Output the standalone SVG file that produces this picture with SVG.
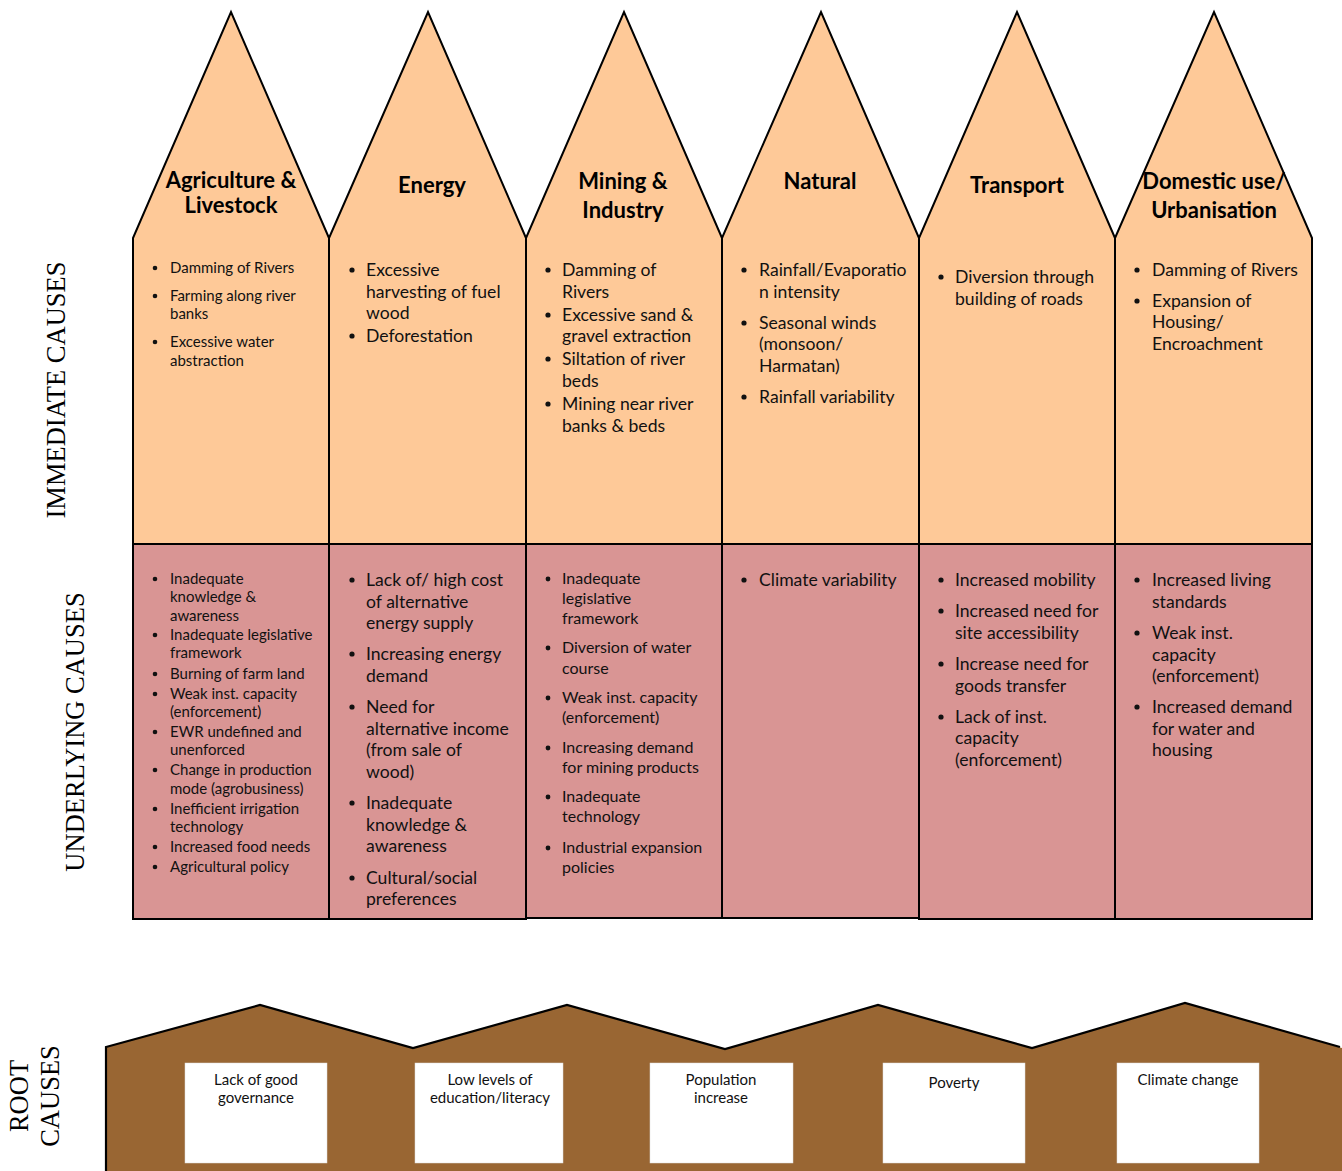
<svg xmlns="http://www.w3.org/2000/svg" width="1342" height="1171" viewBox="0 0 1342 1171">
<style>
.peak{fill:#FEC998;stroke:#000;stroke-width:2;stroke-linejoin:miter}
.under{fill:#D99594;stroke:#000;stroke-width:2}
.hd{font-family:Lato,"Open Sans",sans-serif;font-weight:bold;font-size:22px;fill:#000;text-anchor:middle}
.t{font-family:Lato,"Open Sans",sans-serif;font-size:17.6px;fill:#111}
.s{font-family:Lato,"Open Sans",sans-serif;font-size:15px;fill:#111}
.m{font-family:Lato,"Open Sans",sans-serif;font-size:16px;fill:#111}
.rb{fill:#fff;stroke:#ddd;stroke-width:0.5}
.rt{font-family:Lato,"Open Sans",sans-serif;font-size:15px;fill:#111;text-anchor:middle}
.side{font-family:"Liberation Serif","Times New Roman",serif;font-size:26.5px;fill:#000;text-anchor:middle}
.b{fill:#111}
</style>

<g id="side-labels">
<text class="side" transform="translate(65,390) rotate(-90)">IMMEDIATE CAUSES</text>
<text class="side" transform="translate(84,732) rotate(-90)">UNDERLYING CAUSES</text>
<text class="side" transform="translate(28,1096) rotate(-90)">ROOT</text>
<text class="side" transform="translate(59,1096) rotate(-90)">CAUSES</text>
</g>

<g id="connectors"></g>

<!-- Column 1 -->
<g id="agriculture">
<path class="peak" d="M133,544 L133,238 L231,12 L329,238 L329,544 Z"/>
<text class="hd"><tspan x="231" y="188">Agriculture &amp;</tspan><tspan x="231" y="213">Livestock</tspan></text>
<g class="b"><circle cx="155" cy="268" r="2.3"/><circle cx="155" cy="296" r="2.3"/><circle cx="155" cy="342" r="2.3"/></g>
<text class="s"><tspan x="170" y="273">Damming of Rivers</tspan><tspan x="170" y="301">Farming along river</tspan><tspan x="170" y="319">banks</tspan><tspan x="170" y="347">Excessive water</tspan><tspan x="170" y="366">abstraction</tspan></text>
</g>
<g id="agriculture-underlying">
<rect class="under" x="133" y="544" width="196" height="375"/>
<g class="b"><circle cx="155" cy="579" r="2.3"/><circle cx="155" cy="635" r="2.3"/><circle cx="155" cy="674" r="2.3"/><circle cx="155" cy="694" r="2.3"/><circle cx="155" cy="732" r="2.3"/><circle cx="155" cy="770" r="2.3"/><circle cx="155" cy="809" r="2.3"/><circle cx="155" cy="847" r="2.3"/><circle cx="155" cy="867" r="2.3"/></g>
<text class="s"><tspan x="170" y="584">Inadequate</tspan><tspan x="170" y="602">knowledge &amp;</tspan><tspan x="170" y="621">awareness</tspan><tspan x="170" y="640">Inadequate legislative</tspan><tspan x="170" y="658">framework</tspan><tspan x="170" y="679">Burning of farm land</tspan><tspan x="170" y="699">Weak inst. capacity</tspan><tspan x="170" y="717">(enforcement)</tspan><tspan x="170" y="737">EWR undefined and</tspan><tspan x="170" y="755">unenforced</tspan><tspan x="170" y="775">Change in production</tspan><tspan x="170" y="794">mode (agrobusiness)</tspan><tspan x="170" y="814">Inefficient irrigation</tspan><tspan x="170" y="832">technology</tspan><tspan x="170" y="852">Increased food needs</tspan><tspan x="170" y="872">Agricultural policy</tspan></text>
</g>

<!-- Column 2 -->
<g id="energy">
<path class="peak" d="M329,544 L329,238 L428,12 L526,238 L526,544 Z"/>
<text class="hd" x="432" y="193">Energy</text>
<g class="b"><circle cx="352" cy="270" r="2.6"/><circle cx="352" cy="336" r="2.6"/></g>
<text class="t"><tspan x="366" y="276">Excessive</tspan><tspan x="366" y="298">harvesting of fuel</tspan><tspan x="366" y="319">wood</tspan><tspan x="366" y="342">Deforestation</tspan></text>
</g>
<g id="energy-underlying">
<rect class="under" x="329" y="544" width="197" height="375"/>
<g class="b"><circle cx="352" cy="580" r="2.6"/><circle cx="352" cy="654" r="2.6"/><circle cx="352" cy="707" r="2.6"/><circle cx="352" cy="803" r="2.6"/><circle cx="352" cy="878" r="2.6"/></g>
<text class="t"><tspan x="366" y="586">Lack of/ high cost</tspan><tspan x="366" y="608">of alternative</tspan><tspan x="366" y="629">energy supply</tspan><tspan x="366" y="660">Increasing energy</tspan><tspan x="366" y="682">demand</tspan><tspan x="366" y="713">Need for</tspan><tspan x="366" y="735">alternative income</tspan><tspan x="366" y="756">(from sale of</tspan><tspan x="366" y="778">wood)</tspan><tspan x="366" y="809">Inadequate</tspan><tspan x="366" y="831">knowledge &amp;</tspan><tspan x="366" y="852">awareness</tspan><tspan x="366" y="884">Cultural/social</tspan><tspan x="366" y="905">preferences</tspan></text>
</g>

<!-- Column 3 -->
<g id="mining">
<path class="peak" d="M526,544 L526,238 L624,12 L722,238 L722,544 Z"/>
<text class="hd"><tspan x="623" y="189">Mining &amp;</tspan><tspan x="623" y="218">Industry</tspan></text>
<g class="b"><circle cx="548" cy="270" r="2.6"/><circle cx="548" cy="315" r="2.6"/><circle cx="548" cy="359" r="2.6"/><circle cx="548" cy="404" r="2.6"/></g>
<text class="t"><tspan x="562" y="276">Damming of</tspan><tspan x="562" y="298">Rivers</tspan><tspan x="562" y="321">Excessive sand &amp;</tspan><tspan x="562" y="342">gravel extraction</tspan><tspan x="562" y="365">Siltation of river</tspan><tspan x="562" y="387">beds</tspan><tspan x="562" y="410">Mining near river</tspan><tspan x="562" y="432">banks &amp; beds</tspan></text>
</g>
<g id="mining-underlying">
<rect class="under" x="526" y="544" width="196" height="374"/>
<g class="b"><circle cx="548" cy="579" r="2.4"/><circle cx="548" cy="648" r="2.4"/><circle cx="548" cy="698" r="2.4"/><circle cx="548" cy="748" r="2.4"/><circle cx="548" cy="797" r="2.4"/><circle cx="548" cy="848" r="2.4"/></g>
<text class="m"><tspan x="562" y="584">Inadequate</tspan><tspan x="562" y="604">legislative</tspan><tspan x="562" y="624">framework</tspan><tspan x="562" y="653">Diversion of water</tspan><tspan x="562" y="674">course</tspan><tspan x="562" y="703">Weak inst. capacity</tspan><tspan x="562" y="723">(enforcement)</tspan><tspan x="562" y="753">Increasing demand</tspan><tspan x="562" y="773">for mining products</tspan><tspan x="562" y="802">Inadequate</tspan><tspan x="562" y="822">technology</tspan><tspan x="562" y="853">Industrial expansion</tspan><tspan x="562" y="873">policies</tspan></text>
</g>

<!-- Column 4 -->
<g id="natural">
<path class="peak" d="M722,544 L722,238 L821,12 L919,238 L919,544 Z"/>
<text class="hd" x="820" y="189">Natural</text>
<g class="b"><circle cx="744" cy="270" r="2.6"/><circle cx="744" cy="323" r="2.6"/><circle cx="744" cy="397" r="2.6"/></g>
<text class="t"><tspan x="759" y="276">Rainfall/Evaporatio</tspan><tspan x="759" y="298">n intensity</tspan><tspan x="759" y="329">Seasonal winds</tspan><tspan x="759" y="350">(monsoon/</tspan><tspan x="759" y="372">Harmatan)</tspan><tspan x="759" y="403">Rainfall variability</tspan></text>
</g>
<g id="natural-underlying">
<rect class="under" x="722" y="544" width="197" height="374"/>
<circle class="b" cx="744" cy="580" r="2.6"/>
<text class="t"><tspan x="759" y="586">Climate variability</tspan></text>
</g>

<!-- Column 5 -->
<g id="transport">
<path class="peak" d="M919,544 L919,238 L1017,12 L1115,238 L1115,544 Z"/>
<text class="hd" x="1017" y="193">Transport</text>
<circle class="b" cx="941" cy="277" r="2.6"/>
<text class="t"><tspan x="955" y="283">Diversion through</tspan><tspan x="955" y="305">building of roads</tspan></text>
</g>
<g id="transport-underlying">
<rect class="under" x="919" y="544" width="196" height="375"/>
<g class="b"><circle cx="941" cy="580" r="2.6"/><circle cx="941" cy="611" r="2.6"/><circle cx="941" cy="664" r="2.6"/><circle cx="941" cy="717" r="2.6"/></g>
<text class="t"><tspan x="955" y="586">Increased mobility</tspan><tspan x="955" y="617">Increased need for</tspan><tspan x="955" y="639">site accessibility</tspan><tspan x="955" y="670">Increase need for</tspan><tspan x="955" y="692">goods transfer</tspan><tspan x="955" y="723">Lack of inst.</tspan><tspan x="955" y="744">capacity</tspan><tspan x="955" y="766">(enforcement)</tspan></text>
</g>

<!-- Column 6 -->
<g id="domestic">
<path class="peak" d="M1115,544 L1115,238 L1214,12 L1312,238 L1312,544 Z"/>
<text class="hd"><tspan x="1214" y="189">Domestic use/</tspan><tspan x="1214" y="218">Urbanisation</tspan></text>
<g class="b"><circle cx="1137" cy="270" r="2.6"/><circle cx="1137" cy="301" r="2.6"/></g>
<text class="t"><tspan x="1152" y="276">Damming of Rivers</tspan><tspan x="1152" y="307">Expansion of</tspan><tspan x="1152" y="328">Housing/</tspan><tspan x="1152" y="350">Encroachment</tspan></text>
</g>
<g id="domestic-underlying">
<rect class="under" x="1115" y="544" width="197" height="375"/>
<g class="b"><circle cx="1137" cy="580" r="2.6"/><circle cx="1137" cy="633" r="2.6"/><circle cx="1137" cy="707" r="2.6"/></g>
<text class="t"><tspan x="1152" y="586">Increased living</tspan><tspan x="1152" y="608">standards</tspan><tspan x="1152" y="639">Weak inst.</tspan><tspan x="1152" y="661">capacity</tspan><tspan x="1152" y="682">(enforcement)</tspan><tspan x="1152" y="713">Increased demand</tspan><tspan x="1152" y="735">for water and</tspan><tspan x="1152" y="756">housing</tspan></text>
</g>

<!-- Root causes -->
<g id="root-base">
<path d="M106,1047 L260,1005 L413,1048 L567,1005 L725,1049 L878,1005 L1032,1048 L1185,1003 L1342,1048 L1342,1171 L106,1171 Z" fill="#996633"/>
<polyline points="106,1171 106,1047 260,1005 413,1048 567,1005 725,1049 878,1005 1032,1048 1185,1003 1340,1047" fill="none" stroke="#000" stroke-width="2.2"/>
</g>
<g id="root-governance">
<rect class="rb" x="185" y="1063" width="142" height="100"/>
<text class="rt"><tspan x="256" y="1085">Lack of good</tspan><tspan x="256" y="1103">governance</tspan></text>
</g>
<g id="root-education">
<rect class="rb" x="415" y="1063" width="148" height="100"/>
<text class="rt"><tspan x="490" y="1085">Low levels of</tspan><tspan x="490" y="1103">education/literacy</tspan></text>
</g>
<g id="root-population">
<rect class="rb" x="650" y="1063" width="143" height="100"/>
<text class="rt"><tspan x="721" y="1085">Population</tspan><tspan x="721" y="1103">increase</tspan></text>
</g>
<g id="root-poverty">
<rect class="rb" x="883" y="1063" width="142" height="100"/>
<text class="rt"><tspan x="954" y="1088">Poverty</tspan></text>
</g>
<g id="root-climate">
<rect class="rb" x="1117" y="1063" width="142" height="100"/>
<text class="rt"><tspan x="1188" y="1085">Climate change</tspan></text>
</g>
</svg>
